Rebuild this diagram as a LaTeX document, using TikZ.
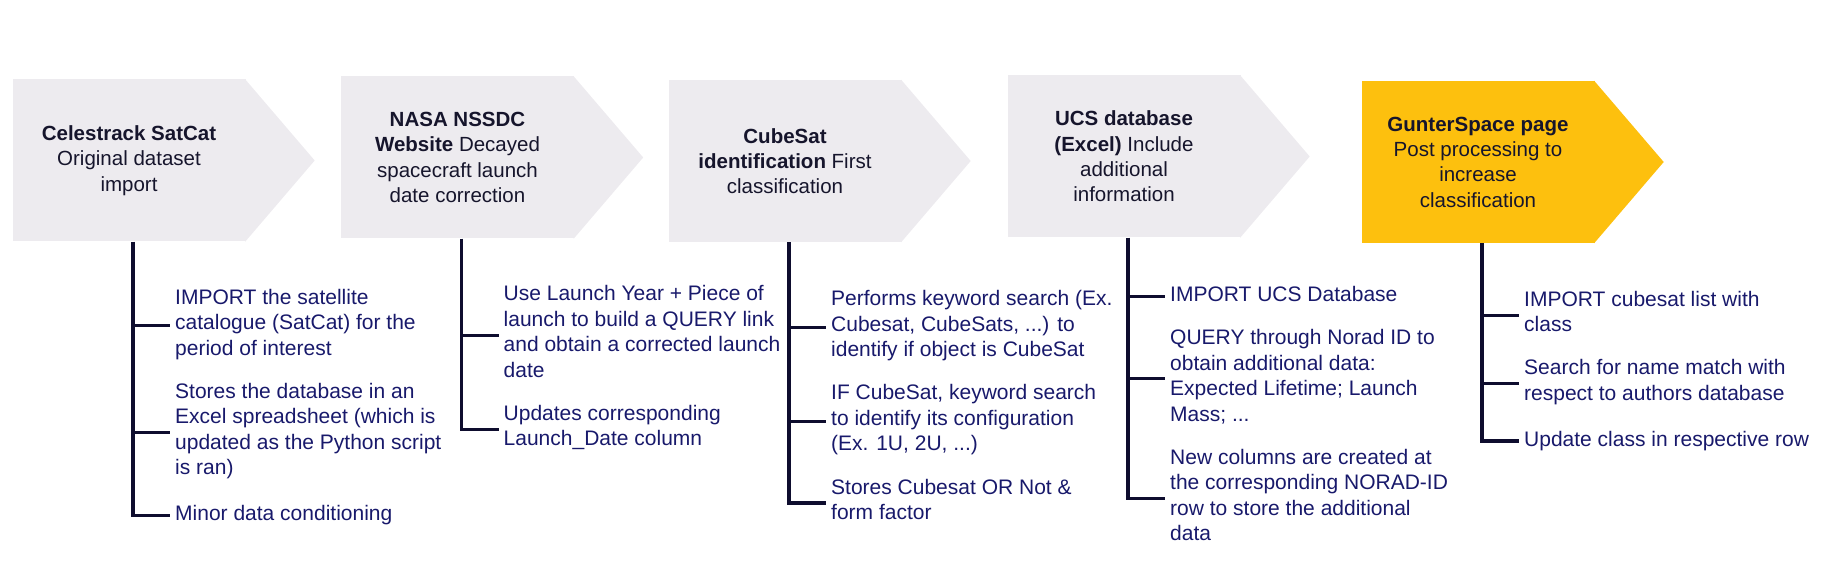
\documentclass[tikz,border=0pt]{standalone}
\usepackage{fontspec}
\setmainfont{Liberation Sans}
\usepackage{xcolor}
\usetikzlibrary{positioning}
\definecolor{boxgray}{HTML}{EDEBEF}
\definecolor{gunteryellow}{HTML}{FDC00E}
\definecolor{tasknavy}{HTML}{18196B}
\definecolor{spinenavy}{HTML}{0E0D2E}
\definecolor{titleink}{HTML}{16152C}

\begin{document}
\begin{tikzpicture}[x=1pt,y=-1pt,
	stage/.style={rectangle, fill=boxgray, minimum width=233pt, minimum height=162pt, inner sep=0pt, align=center, text=titleink, font=\fontsize{20.5}{25.3}\selectfont},
	task/.style={inner xsep=5pt, inner ysep=0pt, align=left, text=tasknavy, font=\fontsize{21}{25.5}\selectfont, execute at begin node=\strut, execute at end node=\strut},
	spine/.style={draw=spinenavy, line width=3.4pt},
	branch/.style={draw=spinenavy, line width=3pt}]
	\useasboundingbox (0,0) rectangle (1829,561);
	
	% Stages
	\node[stage] (celes) at (129,160.5) {\textbf{Celestrack SatCat}\\Original dataset\\import};
	\node[stage] (nasa) at (457.5,157.5) {\textbf{NASA NSSDC}\\\textbf{Website} Decayed\\spacecraft launch\\date correction};
	\node[stage] (cube) at (785,161) {\textbf{CubeSat}\\\textbf{identification} First\\classification};
	\node[stage] (ucs) at (1124,156.5) {\textbf{UCS database}\\\textbf{(Excel)} Include\\additional\\information};
	\node[stage, fill=gunteryellow] (gunter) at (1478,162) {\textbf{GunterSpace page}\\Post processing to\\increase\\classification};
	
	% arrow tips
	\foreach \s in {celes,nasa,cube,ucs}
	\fill[boxgray] ([xshift=-0.5pt]\s.north east) -- ([xshift=69pt]\s.east) -- ([xshift=-0.5pt]\s.south east) -- cycle;
	\fill[gunteryellow] ([xshift=-0.5pt]gunter.north east) -- ([xshift=69pt]gunter.east) -- ([xshift=-0.5pt]gunter.south east) -- cycle;
	
	% Tasks
	\node[task, below right=47pt and 41pt of celes.south] (celes1) {IMPORT the satellite\\catalogue (SatCat) for the\\period of interest};
	\node[task, below right=20pt and 0pt of celes1.south west] (celes2) {Stores the database in an\\Excel spreadsheet (which is\\updated as the Python script\\is ran)};
	\node[task, below right=20pt and 0pt of celes2.south west] (celes3) {Minor data conditioning};
	
	\node[task, below right=46.5pt and 41pt of nasa.south] (nasa1) {Use Launch Year + Piece of\\launch to build a QUERY link\\and obtain a corrected launch\\date};
	\node[task, below right=20pt and 0pt of nasa1.south west] (nasa2) {Updates corresponding\\Launch\_Date column};
	
	\node[task, below right=48pt and 41pt of cube.south] (cube1) {Performs keyword search (Ex.\\Cubesat, CubeSats, ...) to\\identify if object is CubeSat};
	\node[task, below right=20pt and 0pt of cube1.south west] (cube2) {IF CubeSat, keyword search\\to identify its configuration\\(Ex. 1U, 2U, ...)};
	\node[task, below right=20pt and 0pt of cube2.south west] (cube3) {Stores Cubesat OR Not \&\\form factor};
	
	\node[task, below right=45.5pt and 41pt of ucs.south] (ucs1) {IMPORT UCS Database};
	\node[task, below right=20pt and 0pt of ucs1.south west] (ucs2) {QUERY through Norad ID to\\obtain additional data:\\Expected Lifetime; Launch\\Mass; ...};
	\node[task, below right=20pt and 0pt of ucs2.south west] (ucs3) {New columns are created at\\the corresponding NORAD-ID\\row to store the additional\\data};
	
	\node[task, below right=47.5pt and 41pt of gunter.south] (gunter1) {IMPORT cubesat list with\\class};
	\node[task, below right=20pt and 0pt of gunter1.south west] (gunter2) {Search for name match with\\respect to authors database};
	\node[task, below right=20pt and 0pt of gunter2.south west] (gunter3) {Update class in respective row};
	
	% Spines
	\coordinate (celesspine) at ([xshift=4pt]celes.south);
	\coordinate (nasaspine) at ([xshift=4pt]nasa.south);
	\coordinate (cubespine) at ([xshift=4pt]cube.south);
	\coordinate (ucsspine) at ([xshift=4pt]ucs.south);
	\coordinate (gunterspine) at ([xshift=4pt]gunter.south);
	
	\draw[spine] (celesspine) |- (celes3.west);
	\draw[branch] (celesspine |- celes1.west) -- (celes1.west);
	\draw[branch] (celesspine |- celes2.west) -- (celes2.west);
	
	\draw[spine] (nasaspine) |- (nasa2.west);
	\draw[branch] (nasaspine |- nasa1.west) -- (nasa1.west);
	
	\draw[spine] (cubespine) |- (cube3.west);
	\draw[branch] (cubespine |- cube1.west) -- (cube1.west);
	\draw[branch] (cubespine |- cube2.west) -- (cube2.west);
	
	\draw[spine] (ucsspine) |- (ucs3.west);
	\draw[branch] (ucsspine |- ucs1.west) -- (ucs1.west);
	\draw[branch] (ucsspine |- ucs2.west) -- (ucs2.west);
	
	\draw[spine] (gunterspine) |- (gunter3.west);
	\draw[branch] (gunterspine |- gunter1.west) -- (gunter1.west);
	\draw[branch] (gunterspine |- gunter2.west) -- (gunter2.west);
	
\end{tikzpicture}
\end{document}
